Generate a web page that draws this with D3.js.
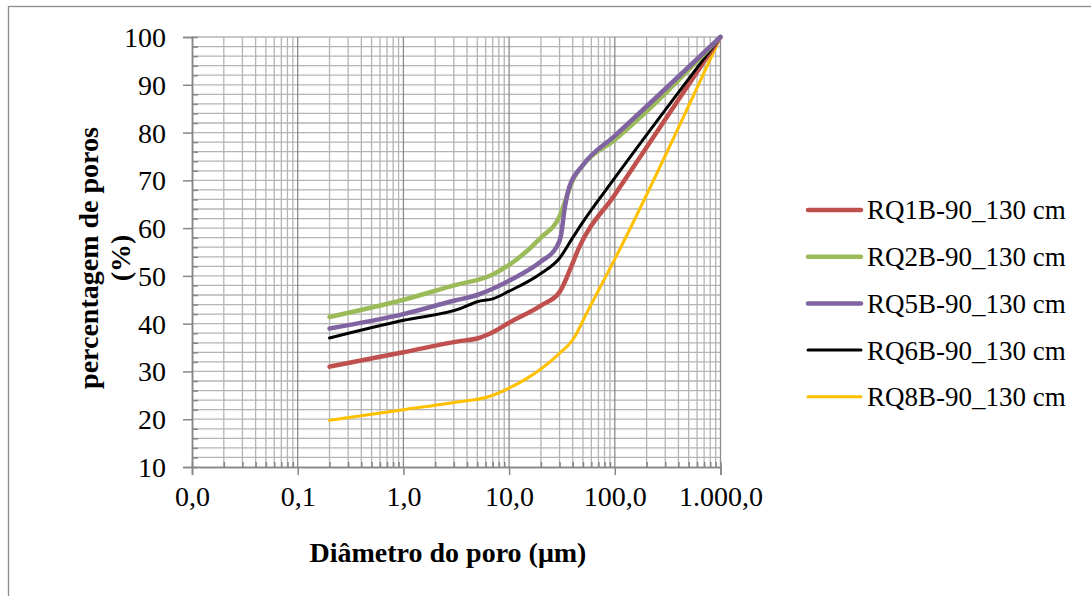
<!DOCTYPE html>
<html>
<head>
<meta charset="utf-8">
<script src="https://cdn.jsdelivr.net/npm/d3@7"></script>
<style>
  html, body { margin: 0; padding: 0; background: #fff; }
  svg { display: block; }
  svg text { font-family: "Liberation Serif", "Tinos", "Times New Roman", Times, "DejaVu Serif", serif !important; fill: #000; }
</style>
</head>
<body>
<svg id="chart" width="1091" height="596"></svg>
<script>
// ---- data ----
const seriesNames = ["RQ1B-90_130 cm", "RQ2B-90_130 cm", "RQ5B-90_130 cm", "RQ6B-90_130 cm", "RQ8B-90_130 cm"];
const seriesColors = ["#C0504D", "#9BBB59", "#8064A2", "#000000", "#FFC000"];
const rq1b = [[0.2,31],[1,34],[3.5,36.4],[5,36.9],[7,38.2],[10,40.2],[20,43.8],[30,46.6],[38,51.5],[45,55.5],[100,67],[1000,100]];
const rq2b = [[0.2,41.4],[1,45],[3,48],[7,50.3],[10,52.3],[20,58],[30,62.5],[35,66.5],[40,70],[50,73.2],[100,78.5],[1000,100]];
const rq5b = [[0.2,39],[1,42],[3,44.8],[5,46],[7,47.3],[10,49],[20,53],[28,56],[31,58.5],[33.5,64],[37,68.5],[50,73.2],[100,79.3],[1000,100]];
const rq6b = [[0.2,37],[1,40.7],[3.5,43.2],[5,44.6],[7,45.2],[10,46.8],[20,50.5],[30,53.7],[40,58],[50,61.3],[100,70.5],[1000,100]];
const rq8b = [[0.2,19.8],[1,22],[3,23.5],[6.6,24.8],[10,26.5],[20,30.5],[30,33.8],[40,36.6],[55,42.5],[100,53.5],[1000,100]];
const seriesData = [rq1b, rq2b, rq5b, rq6b, rq8b];
const xTickValues = [0.01, 0.1, 1, 10, 100, 1000];
const xTickLabels = ["0,0", "0,1", "1,0", "10,0", "100,0", "1.000,0"];
const yTickValues = [10, 20, 30, 40, 50, 60, 70, 80, 90, 100];

// ---- layout ----
const svg = d3.select("#chart");
const pLeft = 192, pRight = 720.5, pTop = 37, pBottom = 467;
const x = d3.scaleLog().domain([0.01, 1000]).range([pLeft, pRight]);
const y = d3.scaleLinear().domain([10, 100]).range([pBottom, pTop]);
const serif = '"Liberation Serif", "Tinos", "Times New Roman", Times, "DejaVu Serif", serif';

// outer frame (right/bottom edges fall outside the picture)
svg.append("rect").attr("x", 8.5).attr("y", 6.5).attr("width", 1100).attr("height", 600)
  .attr("fill", "none").attr("stroke", "#8c8c8c").attr("stroke-width", 1.3);

const minorX = [];
for (let d = -2; d < 3; d++) for (let k = 2; k <= 9; k++) minorX.push(k * Math.pow(10, d));
const minorY = d3.range(12, 100, 2).filter(v => v % 10 !== 0);

const grid = svg.append("g");
grid.selectAll(".hy").data(d3.range(12, 101, 2)).join("line")
  .attr("x1", pLeft).attr("x2", pRight).attr("y1", d => y(d)).attr("y2", d => y(d))
  .attr("stroke", "#b4b4b4").attr("stroke-width", 1.3);
grid.selectAll(".mx").data(minorX).join("line")
  .attr("x1", d => x(d)).attr("x2", d => x(d)).attr("y1", pTop).attr("y2", pBottom)
  .attr("stroke", "#b4b4b4").attr("stroke-width", 1.3);
grid.selectAll(".Mx").data(xTickValues.slice(1)).join("line")
  .attr("x1", d => x(d)).attr("x2", d => x(d)).attr("y1", pTop).attr("y2", pBottom)
  .attr("stroke", "#8c8c8c").attr("stroke-width", 1.3);

// axes
const axisColor = "#868686";
const gx = svg.append("g").attr("transform", `translate(0,${pBottom})`)
  .call(d3.axisBottom(x).tickValues(xTickValues).tickSize(8).tickPadding(10)
    .tickFormat((d, i) => xTickLabels[i]));
const gxm = svg.append("g").attr("transform", `translate(0,${pBottom})`)
  .call(d3.axisBottom(x).tickValues(minorX).tickSize(-5).tickFormat(""));
const gy = svg.append("g").attr("transform", `translate(${pLeft},0)`)
  .call(d3.axisLeft(y).tickValues(yTickValues).tickSize(9).tickPadding(17));
const gym = svg.append("g").attr("transform", `translate(${pLeft},0)`)
  .call(d3.axisLeft(y).tickValues(minorY).tickSize(-6).tickFormat(""));
[gx, gxm, gy, gym].forEach(g => {
  g.attr("font-family", serif);
  g.select(".domain").attr("stroke", axisColor).attr("stroke-width", 1.5);
  g.selectAll(".tick line").attr("stroke", axisColor).attr("stroke-width", 1.5);
  g.selectAll("text").attr("font-family", serif).attr("font-size", 28).attr("fill", "#000");
});
gy.selectAll("text").attr("dy", "0.34em");
gx.selectAll("text").attr("dy", "0.75em");

// series
const line = d3.line().x(d => x(d[0])).y(d => y(d[1])).curve(d3.curveMonotoneX);
const widths = [4.5, 4.5, 4.5, 3, 3];
const order = [4, 0, 3, 1, 2];
svg.append("g").selectAll("path").data(order).join("path")
  .attr("d", i => line(seriesData[i]))
  .attr("fill", "none").attr("stroke", i => seriesColors[i])
  .attr("stroke-width", i => widths[i]).attr("stroke-linejoin", "round").attr("stroke-linecap", "round");

// legend
const lg = svg.append("g");
seriesNames.forEach((name, i) => {
  const ly = 210 + i * 46.7;
  lg.append("line").attr("x1", 808).attr("x2", 861).attr("y1", ly).attr("y2", ly)
    .attr("stroke", seriesColors[i]).attr("stroke-width", widths[i]).attr("stroke-linecap", "round");
  lg.append("text").attr("x", 867).attr("y", ly).attr("dy", "0.35em")
    .attr("font-family", serif).attr("font-size", 27).text(name);
});

// axis titles
svg.append("text").attr("x", 448).attr("y", 562).attr("text-anchor", "middle")
  .attr("font-family", serif).attr("font-size", 28).attr("font-weight", "bold").text("Diâmetro do poro (μm)");
const yt = svg.append("text").attr("transform", "translate(98,258) rotate(-90)")
  .attr("font-family", serif).attr("text-anchor", "middle").attr("font-size", 28).attr("font-weight", "bold");
yt.append("tspan").attr("x", 0).attr("dy", 0).text("percentagem de poros");
yt.append("tspan").attr("x", 0).attr("dy", 32).text("(%)");
</script>
</body>
</html>
